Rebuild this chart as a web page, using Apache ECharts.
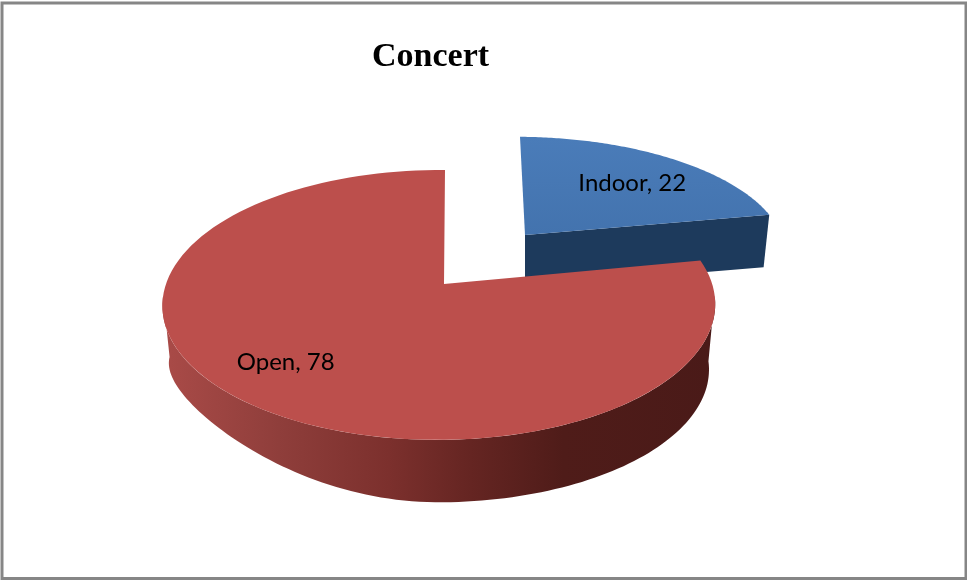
<!DOCTYPE html>
<html>
<head>
<meta charset="utf-8">
<style>
html, body { margin: 0; padding: 0; background: #fff; }
#main { width: 967px; height: 580px; }
</style>
<script src="https://cdn.jsdelivr.net/npm/echarts@6/dist/echarts.min.js"></script>
</head>
<body>
<div id="main"></div>
<script>
var categories = ['Indoor', 'Open'];
var values = [22, 78];

var chartDom = document.getElementById('main');
var myChart = echarts.init(chartDom);
var option;

// look of each slice: apex on screen, size, wall depth, colours
var sliceLook = [
    {
        apex: [525, 235], scale: 0.957, yScale: 0.9, depth: 52, lean: -5, clipTop: 136,
        top: new echarts.graphic.LinearGradient(0, 0, 0, 1, [
            { offset: 0, color: '#4a7cb9' },
            { offset: 1, color: '#4373ae' }
        ]),
        side: '#1d3a5c',
        labelAt: 0.65, labelShift: [10, 1]
    },
    {
        apex: [444, 284], scale: 1, yScale: 1, depth: 66, lean: 1, clipTop: 0,
        top: '#bc4f4c',
        side: new echarts.graphic.LinearGradient(170, 0, 716, 0, [
            { offset: 0, color: '#a84a47' },
            { offset: 0.2, color: '#8f3e3b' },
            { offset: 0.4, color: '#7c302d' },
            { offset: 0.55, color: '#652522' },
            { offset: 0.72, color: '#4f1c19' },
            { offset: 1, color: '#4a1a18' }
        ], true),
        wall: [95, 265],
        labelAt: 0.75, labelShift: [-13, -6]
    }
];

// flat pie seen from above in perspective, angle runs clockwise from 12 o'clock
function project(look, angle, frac, lower) {
    var u = Math.sin(angle) * frac;
    var v = Math.cos(angle) * frac;
    var w = 1 + 0.155 * v + 0.018 * u;
    var s = look.scale * (lower ? 0.977 : 1);
    var x = look.apex[0] + 273 * s * u / w + look.lean * v;
    var y = look.apex[1] - 131.7 * s * look.yScale * v / w;
    if (lower) {
        // the wall gets shallower on the lower left in the picture
        y += look.depth - (u < 0 && v < 0 ? 53 * u * u * -v : 0);
    }
    return [x, Math.max(y, look.clipTop)];
}

function arcPoints(look, start, end, lower) {
    var pts = [];
    var n = 120;
    for (var i = 0; i <= n; i++) {
        pts.push(project(look, start + (end - start) * i / n, 1, lower));
    }
    return pts;
}

function renderSlice(params, api) {
    var idx = params.dataIndex;
    var total = values.reduce(function (a, b) { return a + b; }, 0);
    var before = values.slice(0, idx).reduce(function (a, b) { return a + b; }, 0);
    var start = before / total * Math.PI * 2;
    var end = (before + api.value(0)) / total * Math.PI * 2;
    var look = sliceLook[idx];

    var topArc = arcPoints(look, start, end, false);
    var children = [];

    if (look.wall) {
        // outer wall, only the part that faces the viewer
        var a0 = look.wall[0] * Math.PI / 180;
        var a1 = look.wall[1] * Math.PI / 180;
        children.push({
            type: 'polygon',
            shape: { points: arcPoints(look, a0, a1, false).concat(arcPoints(look, a0, a1, true).reverse()) },
            style: { fill: look.side }
        });
    } else {
        // cut face towards the viewer
        children.push({
            type: 'polygon',
            shape: { points: [
                look.apex,
                project(look, end, 1, false),
                project(look, end, 1, true),
                project(look, 0, 0, true)
            ] },
            style: { fill: look.side }
        });
    }
    children.push({
        type: 'polygon',
        shape: { points: topArc.concat([look.apex]) },
        style: { fill: look.top }
    });

    var mid = project(look, (start + end) / 2, look.labelAt, false);
    children.push({
        type: 'text',
        style: {
            x: mid[0] + look.labelShift[0],
            y: mid[1] + look.labelShift[1],
            text: categories[idx] + ', ' + api.value(0),
            fill: '#000',
            font: '24px Lato',
            textAlign: 'center',
            textVerticalAlign: 'middle'
        }
    });
    return { type: 'group', children: children };
}

option = {
    backgroundColor: '#fff',
    animation: false,
    title: {
        text: 'Concert',
        left: 372,
        top: 40,
        padding: 0,
        textStyle: {
            fontFamily: 'Liberation Serif',
            fontWeight: 'bold',
            fontSize: 34,
            color: '#000'
        }
    },
    graphic: [
        {
            type: 'rect',
            silent: true,
            shape: { x: 2, y: 3, width: 964, height: 575.5 },
            style: { fill: 'none', stroke: '#868686', lineWidth: 3 }
        }
    ],
    series: [
        {
            type: 'custom',
            coordinateSystem: 'none',
            renderItem: renderSlice,
            data: values.map(function (v, i) {
                return { name: categories[i], value: [v] };
            })
        }
    ]
};

option && myChart.setOption(option);
</script>
</body>
</html>
